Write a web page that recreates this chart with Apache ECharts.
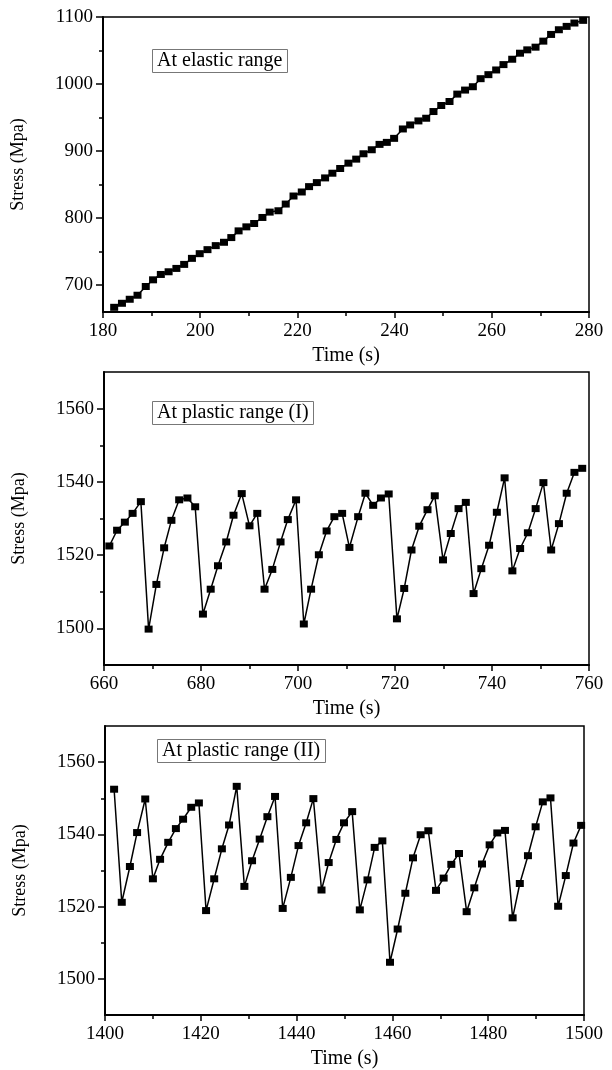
<!DOCTYPE html>
<html>
<head>
<meta charset="utf-8">
<script src="https://cdn.jsdelivr.net/npm/echarts@6/dist/echarts.min.js"></script>
<style>
  html, body { margin: 0; padding: 0; background: #fff; }
  #chart { width: 612px; height: 1070px; }
</style>
</head>
<body>
<div id="chart"></div>
<script>
// panel 1 - elastic range
var time1 = [182.3,183.9,185.5,187.1,188.8,190.3,191.9,193.5,195.1,196.7,198.3,199.9,201.5,203.2,204.9,206.4,207.9,209.5,211.1,212.8,
  214.3,216.1,217.6,219.2,220.9,222.4,224.0,225.7,227.2,228.8,230.5,232.1,233.6,235.3,236.9,238.4,239.9,241.7,243.2,244.9,
  246.5,248.0,249.6,251.3,252.9,254.5,256.1,257.7,259.3,260.9,262.4,264.2,265.8,267.3,269.0,270.6,272.2,273.8,275.4,277.0,278.8];
var stress1 = [667,673,679,685,698,708,716,720,725,731,740,747,753,759,764,771,781,787,792,801,
  809,811,821,833,839,847,853,860,867,874,882,888,896,902,910,913,919,933,939,945,
  949,959,968,974,985,991,996,1008,1014,1021,1029,1037,1046,1051,1055,1064,1074,1081,1086,1091,1095];

// panel 2 - plastic range (I)
var time2 = [661.1,662.7,664.3,665.9,667.6,669.2,670.8,672.4,673.9,675.5,677.2,678.8,680.4,682.0,683.5,685.2,686.7,688.4,690.0,691.6,
  693.1,694.7,696.4,697.9,699.6,701.2,702.7,704.3,705.9,707.5,709.1,710.6,712.4,713.9,715.5,717.1,718.7,720.4,721.9,723.4,
  725.0,726.7,728.2,729.9,731.5,733.1,734.6,736.2,737.8,739.4,741.0,742.6,744.2,745.8,747.4,749.0,750.6,752.2,753.8,755.4,757.0,758.6];
var stress2 = [1522.5,1526.8,1529.0,1531.4,1534.6,1499.8,1512.0,1522.0,1529.5,1535.1,1535.6,1533.2,1503.9,1510.7,1517.1,1523.6,1530.9,1536.8,1528.0,1531.4,
  1510.7,1516.1,1523.6,1529.7,1535.1,1501.2,1510.7,1520.1,1526.6,1530.5,1531.4,1522.1,1530.5,1536.9,1533.6,1535.6,1536.7,1502.6,1510.9,1521.4,
  1527.9,1532.4,1536.2,1518.7,1525.9,1532.7,1534.4,1509.5,1516.3,1522.7,1531.7,1541.1,1515.7,1521.8,1526.1,1532.7,1539.8,1521.4,1528.6,1536.9,1542.6,1543.7];

// panel 3 - plastic range (II)
var time3 = [1401.9,1403.5,1405.2,1406.7,1408.4,1410.0,1411.5,1413.2,1414.8,1416.3,1418.0,1419.6,1421.1,1422.8,1424.4,1425.9,1427.5,1429.1,1430.7,1432.3,
  1433.9,1435.5,1437.1,1438.8,1440.4,1442.0,1443.5,1445.2,1446.7,1448.3,1449.9,1451.6,1453.2,1454.8,1456.3,1457.9,1459.5,1461.1,1462.7,1464.3,
  1465.9,1467.5,1469.1,1470.7,1472.3,1473.9,1475.5,1477.1,1478.7,1480.3,1481.9,1483.5,1485.1,1486.6,1488.3,1489.9,1491.4,1493.0,1494.6,1496.2,1497.8,1499.4];
var stress3 = [1552.5,1521.2,1531.1,1540.5,1549.8,1527.7,1533.1,1537.8,1541.6,1544.2,1547.5,1548.7,1518.9,1527.7,1536.0,1542.6,1553.3,1525.6,1532.7,1538.7,
  1544.9,1550.5,1519.5,1528.1,1536.9,1543.2,1549.9,1524.6,1532.2,1538.6,1543.2,1546.3,1519.1,1527.4,1536.4,1538.2,1504.6,1513.8,1523.7,1533.5,
  1539.9,1541.0,1524.5,1527.9,1531.7,1534.7,1518.6,1525.2,1531.8,1537.1,1540.4,1541.1,1516.9,1526.4,1534.1,1542.1,1549.0,1550.1,1520.1,1528.6,1537.6,1542.5];

// tick labels
var yMajor1 = [700, 800, 900, 1000, 1100];
var yMinor1 = [750, 850, 950, 1050];
var yMajor2 = [1500, 1520, 1540, 1560];
var yMinor2 = [1510, 1530, 1550];
var labels = ['At elastic range', 'At plastic range (I)', 'At plastic range (II)'];

var font = 'Liberation Serif';

function pairs(xs, ys) {
  var out = [];
  for (var i = 0; i < xs.length; i++) out.push([xs[i], ys[i]]);
  return out;
}

function plain(v) { return String(v); }

function xAxisFor(idx, min, max) {
  return {
    type: 'value', gridIndex: idx, min: min, max: max, interval: 20,
    name: 'Time (s)', nameLocation: 'middle', nameGap: 34,
    nameTextStyle: {color: '#000', fontSize: 20, fontFamily: font},
    axisLine: {lineStyle: {color: '#000', width: 2}},
    axisTick: {length: 6, lineStyle: {color: '#000', width: 1.5}},
    minorTick: {show: true, splitNumber: 2, length: 4, lineStyle: {color: '#000', width: 1.5}},
    axisLabel: {color: '#000', fontSize: 19, fontFamily: font, margin: 10, formatter: plain},
    splitLine: {show: false}
  };
}

function yAxisFor(idx, min, max, major) {
  return {
    type: 'value', gridIndex: idx, min: min, max: max, position: 'left',
    name: 'Stress (Mpa)', nameLocation: 'middle', nameGap: 76,
    nameTextStyle: {color: '#000', fontSize: 18, fontFamily: font},
    axisLine: {show: true, lineStyle: {color: '#000', width: 2}},
    axisTick: {show: true, length: 7, customValues: major, lineStyle: {color: '#000', width: 1.5}},
    axisLabel: {color: '#000', fontSize: 19, fontFamily: font, margin: 10, customValues: major, formatter: plain},
    splitLine: {show: false}
  };
}

function yMinorFor(idx, min, max, minor) {
  return {
    type: 'value', gridIndex: idx, min: min, max: max, position: 'left',
    axisLine: {show: false},
    axisTick: {show: true, length: 4, customValues: minor, lineStyle: {color: '#000', width: 1.5}},
    axisLabel: {show: false},
    splitLine: {show: false}
  };
}

function series(data, xi, yi) {
  return {
    type: 'line', xAxisIndex: xi, yAxisIndex: yi, data: data,
    symbol: 'rect', symbolSize: [8, 7], showSymbol: true,
    itemStyle: {color: '#000'},
    lineStyle: {color: '#000', width: 1.5}
  };
}

function boxLabel(text, left, top) {
  return {
    text: text, left: left, top: top,
    borderColor: '#777', borderWidth: 1, padding: [2, 5],
    textStyle: {color: '#000', fontSize: 20, fontWeight: 'normal', fontFamily: font}
  };
}

var myChart = echarts.init(document.getElementById('chart'), null, {renderer: 'canvas'});
var gridStyle = {show: true, borderColor: '#000', borderWidth: 1.5, containLabel: false};

var option = {
  animation: false,
  backgroundColor: '#fff',
  title: [
    boxLabel(labels[0], 152, 49),
    boxLabel(labels[1], 152, 401),
    boxLabel(labels[2], 157, 739)
  ],
  grid: [
    Object.assign({left: 103, top: 17, width: 486, height: 295}, gridStyle),
    Object.assign({left: 104, top: 372, width: 485, height: 293}, gridStyle),
    Object.assign({left: 105, top: 726, width: 479, height: 290}, gridStyle)
  ],
  xAxis: [
    xAxisFor(0, 180, 280),
    xAxisFor(1, 660, 760),
    xAxisFor(2, 1400, 1500)
  ],
  yAxis: [
    yAxisFor(0, 660, 1100, yMajor1),
    yMinorFor(0, 660, 1100, yMinor1),
    yAxisFor(1, 1490, 1570, yMajor2),
    yMinorFor(1, 1490, 1570, yMinor2),
    yAxisFor(2, 1490, 1570, yMajor2),
    yMinorFor(2, 1490, 1570, yMinor2)
  ],
  series: [
    series(pairs(time1, stress1), 0, 0),
    series(pairs(time2, stress2), 1, 2),
    series(pairs(time3, stress3), 2, 4)
  ]
};
myChart.setOption(option);
</script>
</body>
</html>
